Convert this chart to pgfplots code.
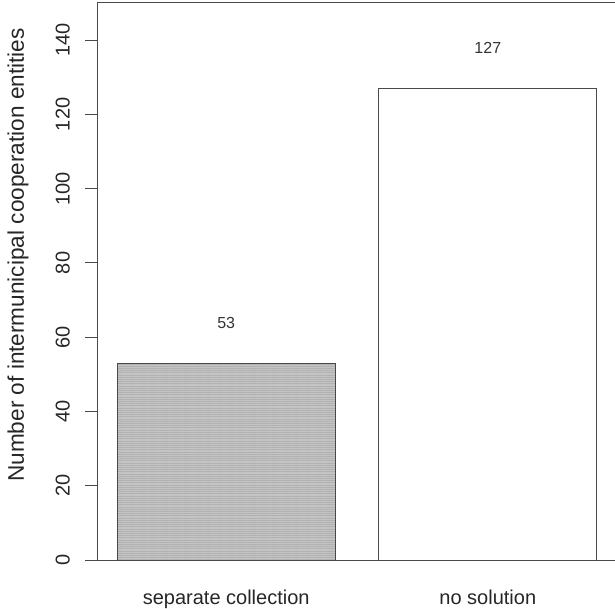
\documentclass[border=0pt]{standalone}
\usepackage{fontspec}
\setmainfont{Liberation Sans}
\usepackage{pgfplots}
\pgfplotsset{compat=1.18}
\usetikzlibrary{patterns.meta}
\definecolor{framec}{HTML}{4A4A4A}
\definecolor{barfill}{HTML}{C4C4C4}
\definecolor{hatch}{HTML}{B0B0B0}
\begin{document}
\begin{tikzpicture}[font=\fontsize{20}{24}\selectfont]
\begin{axis}[
  width=518pt, height=557pt, scale only axis,
  xmin=0.112, xmax=2.488, ymin=0, ymax=150,
  axis line style={framec, line width=1pt},
  tick align=outside, major tick length=13pt,
  ytick={0,20,...,140},
  ytick style={framec, line width=1pt},
  xtick={0.7,1.9},
  xticklabels={separate collection, no solution},
  xtick style={draw=none},
  /pgf/number format/assume math mode=true,
  yticklabel style={rotate=90, anchor=south, inner sep=0pt, text=black!85},
  yticklabel shift=15pt,
  xticklabel style={anchor=base, inner sep=0pt, text=black!85},
  xticklabel shift=31pt,
  ylabel={Number of intermunicipal cooperation entities},
  ylabel style={at={(axis description cs:-0.1545,0.5476)}, anchor=center, rotate=0, text=black!85, font=\fontsize{22.6}{26}\selectfont},
  nodes near coords,
  nodes near coords style={anchor=south, inner sep=0pt, yshift=34pt, font=\fontsize{16}{19}\selectfont, text=black!80},
]
\addplot[ybar, bar width=1, bar shift=0, draw=framec, line width=1pt, fill=barfill,
  postaction={pattern={Lines[angle=0,distance=2.2pt,line width=0.4pt]}, pattern color=hatch}]
  coordinates {(0.7,53)};
\addplot[ybar, bar width=1, bar shift=0, draw=framec, line width=1pt, fill=white]
  coordinates {(1.9,127)};
\end{axis}
\pgfresetboundingbox
\path[use as bounding box] ([xshift=-98pt,yshift=-48pt]current axis.south west) rectangle ([xshift=-1pt,yshift=3pt]current axis.north east);
\end{tikzpicture}
\end{document}
